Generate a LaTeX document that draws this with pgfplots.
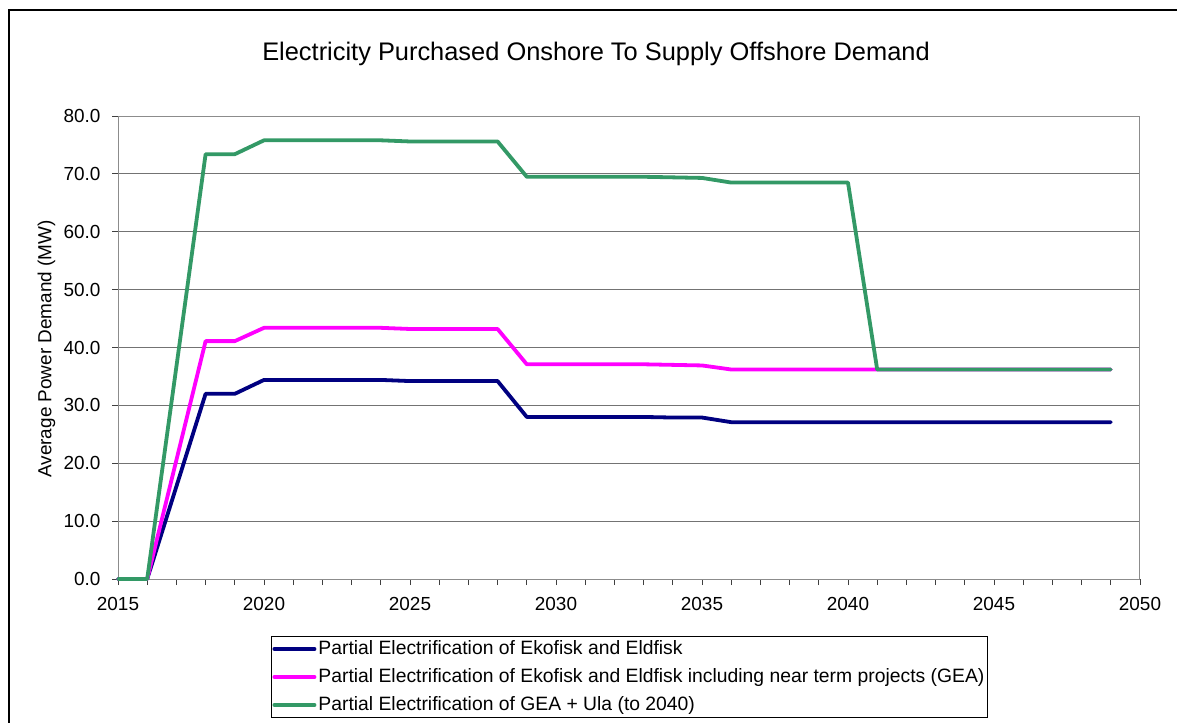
\documentclass[border=0pt]{standalone}
\usepackage{pgfplots}
\pgfplotsset{compat=1.18}
\usepackage{fontspec}
\setmainfont{Liberation Sans}
\definecolor{navyc}{HTML}{000080}
\definecolor{magc}{HTML}{FF00FF}
\definecolor{greenc}{HTML}{339966}
\begin{document}
\begin{tikzpicture}
\useasboundingbox (0bp,0bp) rectangle (1177bp,-723bp);
\draw[black, line width=1.8bp] (9bp,-730bp) -- (9bp,-10bp) -- (1190bp,-10bp);
\begin{axis}[
  at={(118bp,-579bp)}, anchor=south west,
  scale only axis, width=1022bp, height=463bp,
  xmin=2015, xmax=2050, ymin=0, ymax=80,
  xtick={2015,2020,...,2050}, minor x tick num=4,
  ytick={0,10,...,80},
  tick align=outside, xtick pos=left, ytick pos=left,
  major tick length=6bp, minor tick length=6bp,
  every tick/.style={black!75, line width=0.9bp},
  axis line style={draw=black!45, line width=1bp},
  ymajorgrids, grid style={black!55, line width=0.9bp},
  /pgf/number format/assume math mode=true,
  xticklabel style={/pgf/number format/set thousands separator={}, font=\fontsize{19}{22}\selectfont, yshift=-9bp},
  yticklabel style={/pgf/number format/fixed, /pgf/number format/fixed zerofill, /pgf/number format/precision=1, font=\fontsize{19}{22}\selectfont, xshift=-8bp},
  ylabel={Average Power Demand (MW)},
  ylabel style={at={(axis description cs:-0.070,0.497)}, anchor=center, font=\fontsize{19}{22}\selectfont},
  clip=false,
  legend style={at={(axis description cs:0.1497,-0.1231)}, anchor=north west, draw=black, line width=0.9bp,
    font=\fontsize{19.4}{22}\selectfont, cells={anchor=west}, inner sep=1bp, row sep=5bp,
    nodes={inner sep=2bp, text height=15bp, text depth=4bp}},
  legend image code/.code={\draw[line width=4bp, line cap=round] (0bp,0bp) -- (40bp,0bp);},
  every axis plot/.append style={line width=3.8bp, line join=round, line cap=round},
]
\addplot[navyc] coordinates {
(2015,0) (2016,0) (2018,32.0) (2019,32.0) (2020,34.4) (2021,34.4) (2022,34.4) (2023,34.4) (2024,34.4)
(2025,34.2) (2026,34.2) (2027,34.2) (2028,34.2) (2029,28.0) (2030,28.0) (2031,28.0) (2032,28.0) (2033,28.0)
(2034,27.9) (2035,27.9) (2036,27.1) (2037,27.1) (2038,27.1) (2039,27.1) (2040,27.1) (2041,27.1) (2042,27.1)
(2043,27.1) (2044,27.1) (2045,27.1) (2046,27.1) (2047,27.1) (2048,27.1) (2049,27.1)};
\addlegendentry{Partial Electrification of Ekofisk and Eldfisk}
\addplot[magc] coordinates {
(2015,0) (2016,0) (2018,41.1) (2019,41.1) (2020,43.4) (2021,43.4) (2022,43.4) (2023,43.4) (2024,43.4)
(2025,43.2) (2026,43.2) (2027,43.2) (2028,43.2) (2029,37.1) (2030,37.1) (2031,37.1) (2032,37.1) (2033,37.1)
(2034,37.0) (2035,36.9) (2036,36.2) (2037,36.2) (2038,36.2) (2039,36.2) (2040,36.2) (2041,36.2) (2042,36.2)
(2043,36.2) (2044,36.2) (2045,36.2) (2046,36.2) (2047,36.2) (2048,36.2) (2049,36.2)};
\addlegendentry{Partial Electrification of Ekofisk and Eldfisk including near term projects (GEA)}
\addplot[greenc] coordinates {
(2015,0) (2016,0) (2018,73.4) (2019,73.4) (2020,75.8) (2021,75.8) (2022,75.8) (2023,75.8) (2024,75.8)
(2025,75.6) (2026,75.6) (2027,75.6) (2028,75.6) (2029,69.5) (2030,69.5) (2031,69.5) (2032,69.5) (2033,69.5)
(2034,69.4) (2035,69.3) (2036,68.5) (2037,68.5) (2038,68.5) (2039,68.5) (2040,68.5) (2041,36.2) (2042,36.2)
(2043,36.2) (2044,36.2) (2045,36.2) (2046,36.2) (2047,36.2) (2048,36.2) (2049,36.2)};
\addlegendentry{Partial Electrification of GEA + Ula (to 2040)}
\end{axis}
\node[font=\fontsize{25.5}{30}\selectfont, anchor=base] at (596bp,-60bp) {Electricity Purchased Onshore To Supply Offshore Demand};
\end{tikzpicture}
\end{document}
